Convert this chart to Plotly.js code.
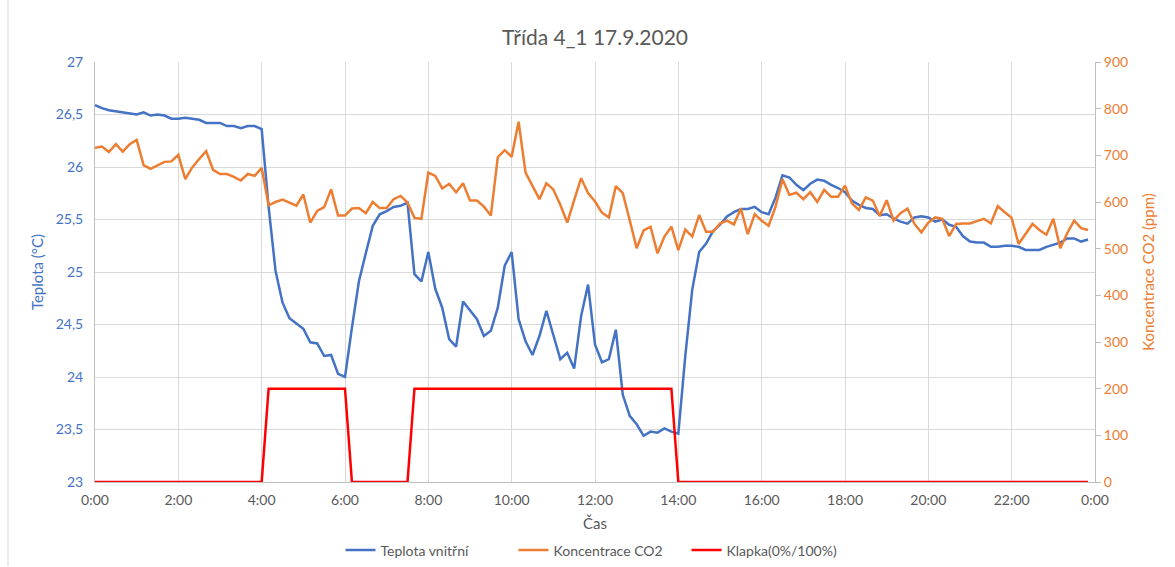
<!DOCTYPE html>
<html>
<head>
<meta charset="utf-8">
<script src="https://cdn.plot.ly/plotly-3.0.1.min.js"></script>
<style>
html,body{margin:0;padding:0;background:#fff;}
#chart{width:1175px;height:567px;}
</style>
</head>
<body>
<div id="chart"></div>
<script>
// Temperature (°C), every 10 minutes from 0:00 to 23:50
var teplota = [
26.59,26.56,26.54,26.53,26.52,26.51,26.50,26.52,26.49,26.50,26.49,26.46,
26.46,26.47,26.46,26.45,26.42,26.42,26.42,26.39,26.39,26.37,26.39,26.39,
26.36,25.62,25.01,24.71,24.56,24.51,24.46,24.33,24.32,24.20,24.21,24.03,
24.00,24.47,24.91,25.18,25.44,25.55,25.58,25.62,25.63,25.66,24.98,24.91,
25.19,24.84,24.66,24.36,24.29,24.72,24.63,24.55,24.39,24.44,24.66,25.06,
25.19,24.55,24.34,24.21,24.39,24.63,24.40,24.17,24.23,24.08,24.58,24.88,
24.31,24.14,24.17,24.45,23.83,23.63,23.55,23.44,23.48,23.47,23.51,23.48,
23.46,24.20,24.83,25.19,25.27,25.39,25.45,25.53,25.57,25.60,25.60,25.62,
25.57,25.55,25.71,25.92,25.90,25.83,25.78,25.84,25.88,25.87,25.83,25.80,
25.76,25.68,25.64,25.61,25.60,25.54,25.55,25.51,25.48,25.46,25.52,25.53,
25.52,25.48,25.50,25.45,25.43,25.34,25.29,25.28,25.28,25.24,25.24,25.25,
25.25,25.24,25.21,25.21,25.21,25.24,25.26,25.28,25.32,25.32,25.29,25.31
];
// CO2 concentration (ppm)
var co2 = [
716,719,707,724,708,724,733,679,671,678,686,687,
701,649,674,692,709,669,660,660,654,646,660,656,
673,593,600,605,599,592,616,556,581,589,627,571,
571,586,587,576,600,587,587,606,613,599,566,564,
663,656,629,639,621,640,603,603,590,571,696,711,
697,772,663,636,606,640,627,594,556,604,651,619,
601,577,567,634,619,561,501,539,547,490,526,547,
497,541,526,572,536,536,554,560,552,586,531,574,
560,549,590,649,615,620,606,621,600,626,611,611,
635,597,583,610,603,570,604,560,576,586,553,535,
556,567,564,527,553,554,554,559,564,554,591,578,
566,510,531,553,540,530,564,501,533,560,544,540
];
// Flap state plotted on CO2 axis (0 = closed, 200 = open)
var klapka = [
0,0,0,0,0,0,0,0,0,0,0,0,
0,0,0,0,0,0,0,0,0,0,0,0,
0,200,200,200,200,200,200,200,200,200,200,200,
200,0,0,0,0,0,0,0,0,0,200,200,
200,200,200,200,200,200,200,200,200,200,200,200,
200,200,200,200,200,200,200,200,200,200,200,200,
200,200,200,200,200,200,200,200,200,200,200,200,
0,0,0,0,0,0,0,0,0,0,0,0,
0,0,0,0,0,0,0,0,0,0,0,0,
0,0,0,0,0,0,0,0,0,0,0,0,
0,0,0,0,0,0,0,0,0,0,0,0,
0,0,0,0,0,0,0,0,0,0,0,0
];
var seriesNames = ["Teplota vnitřní", "Koncentrace CO2", "Klapka(0%/100%)"];
var datum = "2020-09-17";

// time stamps (10-minute sampling)
var cas = [];
for (var i = 0; i < teplota.length; i++) {
  var h = Math.floor(i / 6), m = (i % 6) * 10;
  cas.push(datum + " " + (h < 10 ? "0" : "") + h + ":" + (m < 10 ? "0" : "") + m);
}

var FONT = "Lato, 'Open Sans', sans-serif";
var traces = [
  {x: cas, y: teplota, name: seriesNames[0], type: "scatter", mode: "lines",
   line: {color: "#4472C4", width: 2.5}, yaxis: "y"},
  {x: cas, y: co2, name: seriesNames[1], type: "scatter", mode: "lines",
   line: {color: "#ED7D31", width: 2.5}, yaxis: "y2"},
  {x: cas, y: klapka, name: seriesNames[2], type: "scatter", mode: "lines",
   line: {color: "#FF0000", width: 2.5}, yaxis: "y2"}
];

var layout = {
  width: 1175, height: 567,
  margin: {l: 95, r: 80, t: 62, b: 85, autoexpand: false},
  paper_bgcolor: "#fff", plot_bgcolor: "#fff",
  separators: ", ",
  font: {family: FONT, color: "#595959", size: 14},
  title: {text: "Třída 4_1 17.9.2020", font: {family: FONT, size: 21, color: "#595959"},
          x: 0.5, xref: "paper", y: 0.933, yref: "container", xanchor: "center", yanchor: "middle"},
  showlegend: true,
  legend: {orientation: "h", x: 0.505, xanchor: "center", y: -0.125, yanchor: "top",
           entrywidth: 128, itemwidth: 30,
           font: {family: FONT, size: 14, color: "#595959"}, traceorder: "normal"},
  xaxis: {type: "date", range: [datum + " 00:00", "2020-09-18 00:00"],
          dtick: 7200000, tick0: datum + " 00:00", tickformat: "%-H:%M",
          showgrid: true, gridcolor: "#D9D9D9", gridwidth: 1,
          showline: true, linecolor: "#BFBFBF", linewidth: 1,
          ticks: "", zeroline: false, ticklabelstandoff: 5,
          tickfont: {family: FONT, size: 14, color: "#595959"},
          title: {text: "Čas", font: {family: FONT, size: 15, color: "#595959"}, standoff: 11}},
  yaxis: {range: [23, 27], dtick: 0.5, tick0: 23,
          showgrid: true, gridcolor: "#D9D9D9", gridwidth: 1,
          showline: true, linecolor: "#BFBFBF", linewidth: 1, zeroline: false,
          ticks: "", ticklabelstandoff: 8,
          tickfont: {family: FONT, size: 14, color: "#4472C4"},
          title: {text: "Teplota (°C)", font: {family: FONT, size: 15, color: "#4472C4"}, standoff: 8}},
  yaxis2: {range: [0, 900], dtick: 100, tick0: 0, overlaying: "y", side: "right",
           showgrid: false, zeroline: false,
           showline: true, linecolor: "#BFBFBF", linewidth: 1,
           ticks: "outside", ticklen: 5, tickcolor: "#BFBFBF",
           tickfont: {family: FONT, size: 14, color: "#ED7D31"},
           title: {text: "Koncentrace CO2 (ppm)", font: {family: FONT, size: 15, color: "#ED7D31"}, standoff: 16}},
  shapes: [
    {type: "line", xref: "paper", yref: "paper", x0: -0.087, x1: -0.087, y0: -0.2, y1: 1.2,
     line: {color: "#D9D9D9", width: 1}}
  ]
};

Plotly.newPlot("chart", traces, layout, {displayModeBar: false, staticPlot: true});
</script>
</body>
</html>
